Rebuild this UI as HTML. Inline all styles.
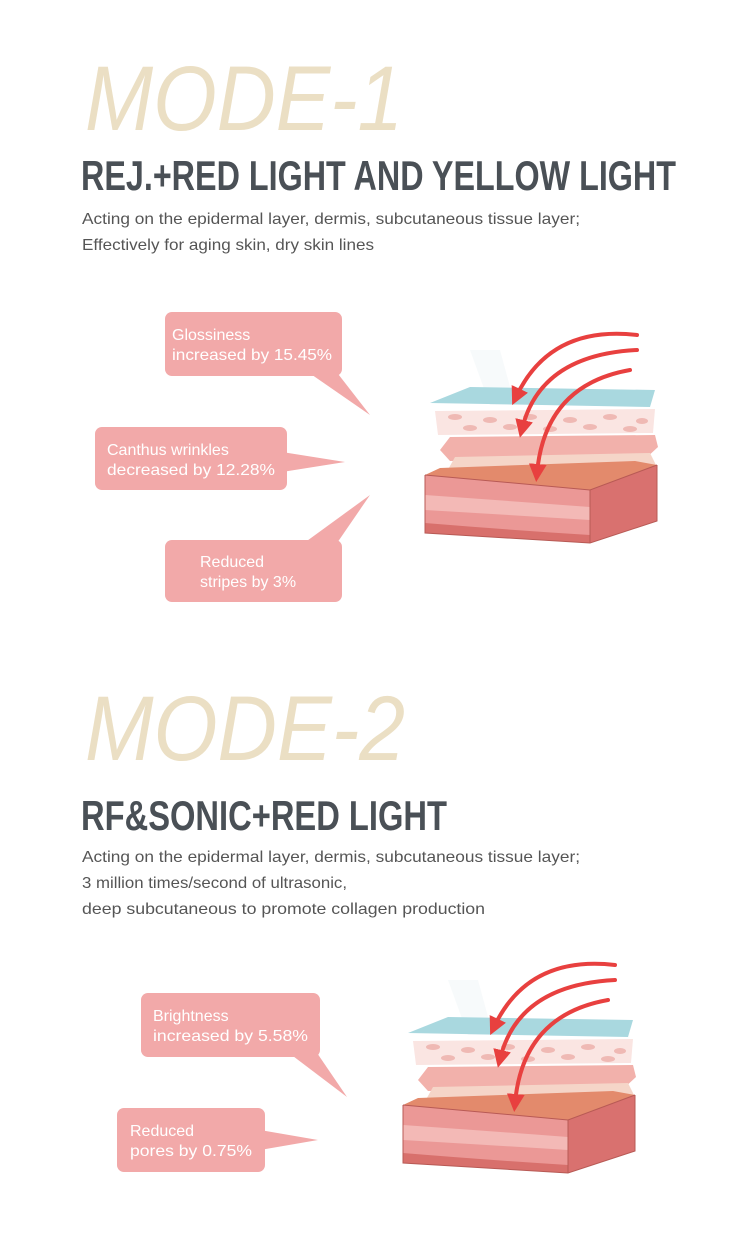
<!DOCTYPE html>
<html><head><meta charset="utf-8"><style>
html,body{margin:0;padding:0;background:#fff;}
svg{display:block;}
</style></head><body>
<svg width="750" height="1254" viewBox="0 0 750 1254" xmlns="http://www.w3.org/2000/svg" font-family="Liberation Sans, sans-serif">
<defs>
<marker id="ah" viewBox="0 0 10 10" refX="5" refY="5" markerWidth="4.5" markerHeight="4.5" orient="auto-start-reverse">
<path d="M0,0 L10,5 L0,10 z" fill="#e8403f"/></marker>
<g id="skin">
  <polygon points="50,25 80,25 95,80 70,80" fill="#f4f8fa" opacity="0.7"/>
  <polygon points="10,78 50,62 235,65 230,82" fill="#a9d8df"/>
  <polygon points="15,86 235,84 233,108 18,110" fill="#fae5e2"/>
  <g fill="#efb9b4">
    <ellipse cx="35" cy="92" rx="7" ry="3"/><ellipse cx="70" cy="95" rx="7" ry="3"/><ellipse cx="110" cy="92" rx="7" ry="3"/><ellipse cx="150" cy="95" rx="7" ry="3"/><ellipse cx="190" cy="92" rx="7" ry="3"/><ellipse cx="222" cy="96" rx="6" ry="3"/>
    <ellipse cx="50" cy="103" rx="7" ry="3"/><ellipse cx="90" cy="102" rx="7" ry="3"/><ellipse cx="130" cy="104" rx="7" ry="3"/><ellipse cx="170" cy="102" rx="7" ry="3"/><ellipse cx="210" cy="104" rx="7" ry="3"/>
  </g>
  <path d="M20,125 L30,112 L235,110 L238,122 L225,134 L30,136 Z" fill="#f2b1ab"/>
  <path d="M25,150 L35,132 L230,128 L236,140 L225,158 L30,160 Z" fill="#f5d5c8"/>
  <polygon points="5,150 170,165 170,218 5,208" fill="#eb9896"/>
  <polygon points="5,150 170,165 237,140 215,136 20,143" fill="#e38a6c"/>
  <polygon points="170,165 237,140 237,196 170,218" fill="#d9716f"/>
  <path d="M5,170 Q90,176 170,182 L170,195 Q90,190 5,185 Z" fill="#f3b9b6"/>
  <path d="M5,198 Q90,205 170,210 L170,218 L5,208 Z" fill="#d8706c"/>
  <path d="M5,150 L170,165 L237,140 M5,150 L5,208 L170,218 L237,196 L237,140 M170,165 L170,218" fill="none" stroke="#b85a55" stroke-width="1"/>
  <g fill="none" stroke="#e8403f" stroke-width="4" stroke-linecap="round" marker-end="url(#ah)">
    <path d="M217,10 Q130,0 96,72"/>
    <path d="M217,25 Q120,30 102,104"/>
    <path d="M210,45 Q125,60 117,148"/>
  </g>
</g>
</defs>

<text x="85" y="130" font-size="92" font-style="italic" fill="#ebdfc4" textLength="318" lengthAdjust="spacingAndGlyphs">MODE-1</text>
<text x="81" y="190" font-size="42" font-weight="bold" fill="#4a5056" textLength="595" lengthAdjust="spacingAndGlyphs">REJ.+RED LIGHT AND YELLOW LIGHT</text>
<text x="82" y="224" font-size="16" fill="#555" textLength="498" lengthAdjust="spacingAndGlyphs">Acting on the epidermal layer, dermis, subcutaneous tissue layer;</text>
<text x="82" y="250" font-size="16" fill="#555" textLength="292" lengthAdjust="spacingAndGlyphs">Effectively for aging skin, dry skin lines</text>

<g fill="#f2a9a9">
  <rect x="165" y="312" width="177" height="64" rx="7"/>
  <polygon points="305,370 335,370 370,415"/>
  <rect x="95" y="427" width="192" height="63" rx="7"/>
  <polygon points="282,452 282,472 345,462"/>
  <rect x="165" y="540" width="177" height="62" rx="7"/>
  <polygon points="300,546 335,546 370,495"/>
</g>
<g fill="#fff" font-size="16">
  <text x="172" y="340">Glossiness</text>
  <text x="172" y="360" textLength="160" lengthAdjust="spacingAndGlyphs">increased by 15.45%</text>
  <text x="107" y="455">Canthus wrinkles</text>
  <text x="107" y="475" textLength="168" lengthAdjust="spacingAndGlyphs">decreased by 12.28%</text>
  <text x="200" y="567">Reduced</text>
  <text x="200" y="587">stripes by 3%</text>
</g>
<use href="#skin" transform="translate(420,325)"/>

<text x="85" y="760" font-size="92" font-style="italic" fill="#ebdfc4" textLength="320" lengthAdjust="spacingAndGlyphs">MODE-2</text>
<text x="81" y="830" font-size="42" font-weight="bold" fill="#4a5056" textLength="366" lengthAdjust="spacingAndGlyphs">RF&amp;SONIC+RED LIGHT</text>
<text x="82" y="862" font-size="16" fill="#555" textLength="498" lengthAdjust="spacingAndGlyphs">Acting on the epidermal layer, dermis, subcutaneous tissue layer;</text>
<text x="82" y="888" font-size="16" fill="#555" textLength="265" lengthAdjust="spacingAndGlyphs">3 million times/second of ultrasonic,</text>
<text x="82" y="914" font-size="16" fill="#555" textLength="403" lengthAdjust="spacingAndGlyphs">deep subcutaneous to promote collagen production</text>

<g fill="#f2a9a9">
  <rect x="141" y="993" width="179" height="64" rx="7"/>
  <polygon points="285,1050 315,1050 347,1097"/>
  <rect x="117" y="1108" width="148" height="64" rx="7"/>
  <polygon points="260,1130 260,1150 318,1140"/>
</g>
<g fill="#fff" font-size="16">
  <text x="153" y="1021">Brightness</text>
  <text x="153" y="1041" textLength="155" lengthAdjust="spacingAndGlyphs">increased by 5.58%</text>
  <text x="130" y="1136">Reduced</text>
  <text x="130" y="1156" textLength="122" lengthAdjust="spacingAndGlyphs">pores by 0.75%</text>
</g>
<use href="#skin" transform="translate(398,955)"/>
</svg>
</body></html>
